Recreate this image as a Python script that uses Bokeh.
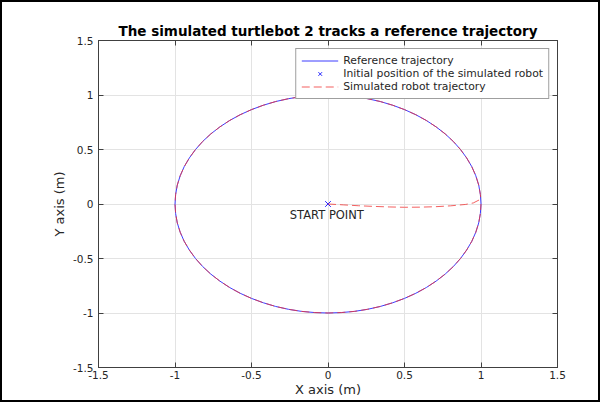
from bokeh.plotting import figure
from bokeh.models import Range1d, FixedTicker, LinearAxis, Legend, LegendItem
from bokeh.core.properties import value
from bokeh.embed import file_html
from bokeh.resources import INLINE

# ---- data ----
ticks = [-1.5, -1.0, -0.5, 0.0, 0.5, 1.0, 1.5]
tick_labels = {-1.5: "-1.5", -1.0: "-1", -0.5: "-0.5", 0.0: "0", 0.5: "0.5", 1.0: "1", 1.5: "1.5"}

# reference trajectory (unit circle, read every 5 degrees)
ref_x = [1.000, 0.996, 0.985, 0.966, 0.940, 0.906, 0.866, 0.819, 0.766, 0.707, 0.643, 0.574,
         0.500, 0.423, 0.342, 0.259, 0.174, 0.087, 0.000,
         -0.087, -0.174, -0.259, -0.342, -0.423, -0.500, -0.574, -0.643, -0.707, -0.766,
         -0.819, -0.866, -0.906, -0.940, -0.966, -0.985, -0.996, -1.000,
         -0.996, -0.985, -0.966, -0.940, -0.906, -0.866, -0.819, -0.766, -0.707, -0.643,
         -0.574, -0.500, -0.423, -0.342, -0.259, -0.174, -0.087, 0.000,
         0.087, 0.174, 0.259, 0.342, 0.423, 0.500, 0.574, 0.643, 0.707, 0.766, 0.819,
         0.866, 0.906, 0.940, 0.966, 0.985, 0.996, 1.000]
ref_y = [0.000, 0.087, 0.174, 0.259, 0.342, 0.423, 0.500, 0.574, 0.643, 0.707, 0.766, 0.819,
         0.866, 0.906, 0.940, 0.966, 0.985, 0.996, 1.000,
         0.996, 0.985, 0.966, 0.940, 0.906, 0.866, 0.819, 0.766, 0.707, 0.643, 0.574,
         0.500, 0.423, 0.342, 0.259, 0.174, 0.087, 0.000,
         -0.087, -0.174, -0.259, -0.342, -0.423, -0.500, -0.574, -0.643, -0.707, -0.766,
         -0.819, -0.866, -0.906, -0.940, -0.966, -0.985, -0.996, -1.000,
         -0.996, -0.985, -0.966, -0.940, -0.906, -0.866, -0.819, -0.766, -0.707, -0.643,
         -0.574, -0.500, -0.423, -0.342, -0.259, -0.174, -0.087, 0.000]

# simulated robot: approach from start point to the circle, then along it
approach_x = [0.0, 0.1, 0.2, 0.3, 0.4, 0.5, 0.6, 0.7, 0.8, 0.9, 0.95, 0.999]
approach_y = [0.0, -0.008, -0.016, -0.022, -0.027, -0.03, -0.029, -0.025, -0.017, -0.004, 0.01, 0.045]
sim_x = approach_x + ref_x[1:]
sim_y = approach_y + ref_y[1:]

start_x = [0.0]
start_y = [0.0]

label_x = [-0.25]
label_y = [-0.1]
label_text = ["START POINT"]

FONT = "DejaVu Sans"
DARK = "#262626"
AXC = "#404040"

p = figure(width=600, height=402, output_backend="svg", toolbar_location=None,
           x_range=Range1d(-1.5, 1.5), y_range=Range1d(-1.5, 1.5),
           min_border_left=96, min_border_top=38, min_border_right=45, min_border_bottom=37,
           x_axis_label="X axis (m)", y_axis_label="Y axis (m)",
           styles={"border": "2px solid black"})
p.background_fill_color = "white"
p.border_fill_color = "white"
p.outline_line_color = AXC
p.outline_line_width = 1

p.title.text = "The simulated turtlebot 2 tracks a reference trajectory"
p.title.text_font = FONT
p.title.text_font_size = "13.5px"
p.title.text_font_style = "bold"
p.title.align = "center"
p.title.text_color = "black"
p.title.standoff = 3

for ax in [p.xaxis[0], p.yaxis[0]]:
    ax.ticker = FixedTicker(ticks=ticks)
    ax.major_label_overrides = tick_labels
    ax.major_label_text_font = FONT
    ax.major_label_text_font_size = "10.5px"
    ax.major_label_text_color = DARK
    ax.axis_label_text_font = FONT
    ax.axis_label_text_font_size = "13px"
    ax.axis_label_text_font_style = "normal"
    ax.axis_label_text_color = DARK
    ax.major_tick_in = 5
    ax.major_tick_out = 0
    ax.minor_tick_line_color = None
    ax.major_tick_line_color = AXC
    ax.axis_line_color = AXC

p.xaxis[0].major_label_standoff = 3
p.xaxis[0].axis_label_standoff = 0
p.yaxis[0].major_label_standoff = 5
p.yaxis[0].axis_label_standoff = 3

for loc in ["above", "right"]:
    ax = LinearAxis(ticker=FixedTicker(ticks=ticks), major_label_text_font_size="1px",
                    major_label_text_color=None,
                    major_tick_in=5, major_tick_out=0, minor_tick_line_color=None,
                    major_label_standoff=0, axis_line_color=AXC,
                    major_tick_line_color=AXC)
    p.add_layout(ax, loc)

p.xgrid.ticker = FixedTicker(ticks=ticks)
p.ygrid.ticker = FixedTicker(ticks=ticks)
p.xgrid.grid_line_color = "#e3e3e3"
p.ygrid.grid_line_color = "#e3e3e3"

r_ref = p.line(ref_x, ref_y, line_color="#3c3cff", line_width=1)
r_start = p.scatter(start_x, start_y, marker="x", size=8, line_color="#2828ff", line_width=1)
r_sim = p.line(sim_x, sim_y, line_color="#f03838", line_width=1, line_dash="8 4", line_alpha=0.8)

p.text(x=label_x, y=label_y, text=label_text, text_font=value(FONT), text_font_size="11.5px",
       text_baseline="middle", text_align="left", text_color=DARK)

legend = Legend(items=[
    LegendItem(label="Reference trajectory", renderers=[r_ref]),
    LegendItem(label="Initial position of the simulated robot", renderers=[r_start]),
    LegendItem(label="Simulated robot trajectory", renderers=[r_sim]),
], location="top_right")
legend.margin = 8
legend.padding = 5
legend.spacing = 0
legend.glyph_width = 37
legend.glyph_height = 13
legend.label_height = 12
legend.label_standoff = 5
legend.label_text_font = FONT
legend.label_text_font_size = "10.8px"
legend.label_text_color = DARK
legend.border_line_color = AXC
legend.border_line_width = 1
legend.background_fill_color = "white"
legend.background_fill_alpha = 1
p.add_layout(legend)

open("out.html", "w").write(file_html(p, INLINE))
